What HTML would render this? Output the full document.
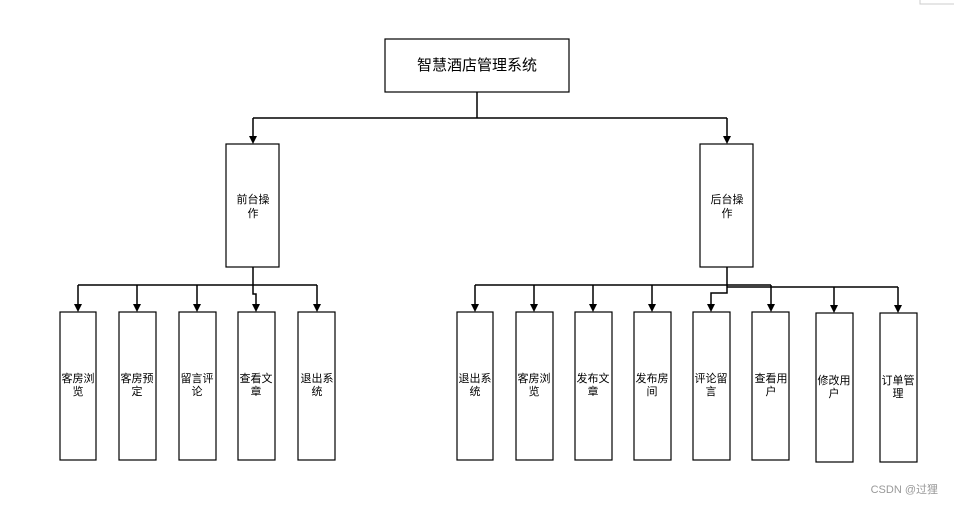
<!DOCTYPE html>
<html><head><meta charset="utf-8"><style>
body{margin:0;background:#fff;}
svg text{font-family:"Liberation Sans","Noto Sans CJK SC",sans-serif;fill:#000;}
</style></head><body>
<svg width="954" height="504" viewBox="0 0 954 504" xmlns="http://www.w3.org/2000/svg">
<defs><marker id="a" markerWidth="8" markerHeight="8" refX="4" refY="8" orient="auto" markerUnits="userSpaceOnUse"><path d="M0,0 L8,0 L4,8 z" fill="#000" transform="rotate(-90 4 4)"/></marker></defs>
<g fill="#fff" stroke="#000" stroke-width="1.2">
<rect x="385" y="39" width="184" height="53"/>
<rect x="226" y="144" width="53" height="123"/>
<rect x="700" y="144" width="53" height="123"/>
<rect x="60" y="312" width="36" height="148"/>
<rect x="119" y="312" width="37" height="148"/>
<rect x="179" y="312" width="37" height="148"/>
<rect x="238" y="312" width="37" height="148"/>
<rect x="298" y="312" width="37" height="148"/>
<rect x="457" y="312" width="36" height="148"/>
<rect x="516" y="312" width="37" height="148"/>
<rect x="575" y="312" width="37" height="148"/>
<rect x="634" y="312" width="37" height="148"/>
<rect x="693" y="312" width="37" height="148"/>
<rect x="752" y="312" width="37" height="148"/>
<rect x="816" y="313" width="37" height="149"/>
<rect x="880" y="313" width="37" height="149"/>
</g>
<g fill="none" stroke="#000" stroke-width="1.5">
<path d="M477 92 V118 M253 118 H727 M253 118 V137 M727 118 V137"/>
<path d="M253 267 V294 H256 V305 M78 285 H317 M78 285 V305 M137 285 V305 M197 285 V305 M317 285 V305"/>
<path d="M727 267 V293 H711 V305 M475 285 H771 M475 285 V305 M534 285 V305 M593 285 V305 M652 285 V305 M771 285 V305 M727 287 H898 M834 287 V306 M898 287 V306"/>
</g>
<g fill="#000">
<path d="M249 136 L257 136 L253 144 z"/><path d="M723 136 L731 136 L727 144 z"/>
<path d="M74 304 L82 304 L78 312 z"/><path d="M133 304 L141 304 L137 312 z"/><path d="M193 304 L201 304 L197 312 z"/><path d="M252 304 L260 304 L256 312 z"/><path d="M313 304 L321 304 L317 312 z"/>
<path d="M471 304 L479 304 L475 312 z"/><path d="M530 304 L538 304 L534 312 z"/><path d="M589 304 L597 304 L593 312 z"/><path d="M648 304 L656 304 L652 312 z"/><path d="M707 304 L715 304 L711 312 z"/><path d="M767 304 L775 304 L771 312 z"/><path d="M830 305 L838 305 L834 313 z"/><path d="M894 305 L902 305 L898 313 z"/>
</g>
<g font-size="11" text-anchor="middle">
<text x="477" y="70" font-size="15">智慧酒店管理系统</text>
<text x="253" y="203">前台操</text><text x="253" y="217">作</text>
<text x="727" y="203">后台操</text><text x="727" y="217">作</text>
<text x="78" y="382">客房浏</text><text x="78" y="395">览</text>
<text x="137" y="382">客房预</text><text x="137" y="395">定</text>
<text x="197" y="382">留言评</text><text x="197" y="395">论</text>
<text x="256" y="382">查看文</text><text x="256" y="395">章</text>
<text x="317" y="382">退出系</text><text x="317" y="395">统</text>
<text x="475" y="382">退出系</text><text x="475" y="395">统</text>
<text x="534" y="382">客房浏</text><text x="534" y="395">览</text>
<text x="593" y="382">发布文</text><text x="593" y="395">章</text>
<text x="652" y="382">发布房</text><text x="652" y="395">间</text>
<text x="711" y="382">评论留</text><text x="711" y="395">言</text>
<text x="771" y="382">查看用</text><text x="771" y="395">户</text>
<text x="834" y="384">修改用</text><text x="834" y="397">户</text>
<text x="898" y="384">订单管</text><text x="898" y="397">理</text>
</g>
<path d="M920 0 V4 H954" fill="none" stroke="#ccc"/>
<text x="938" y="493" font-size="11" text-anchor="end" fill="#999" style="fill:#999">CSDN @过狸</text>
</svg>
</body></html>
